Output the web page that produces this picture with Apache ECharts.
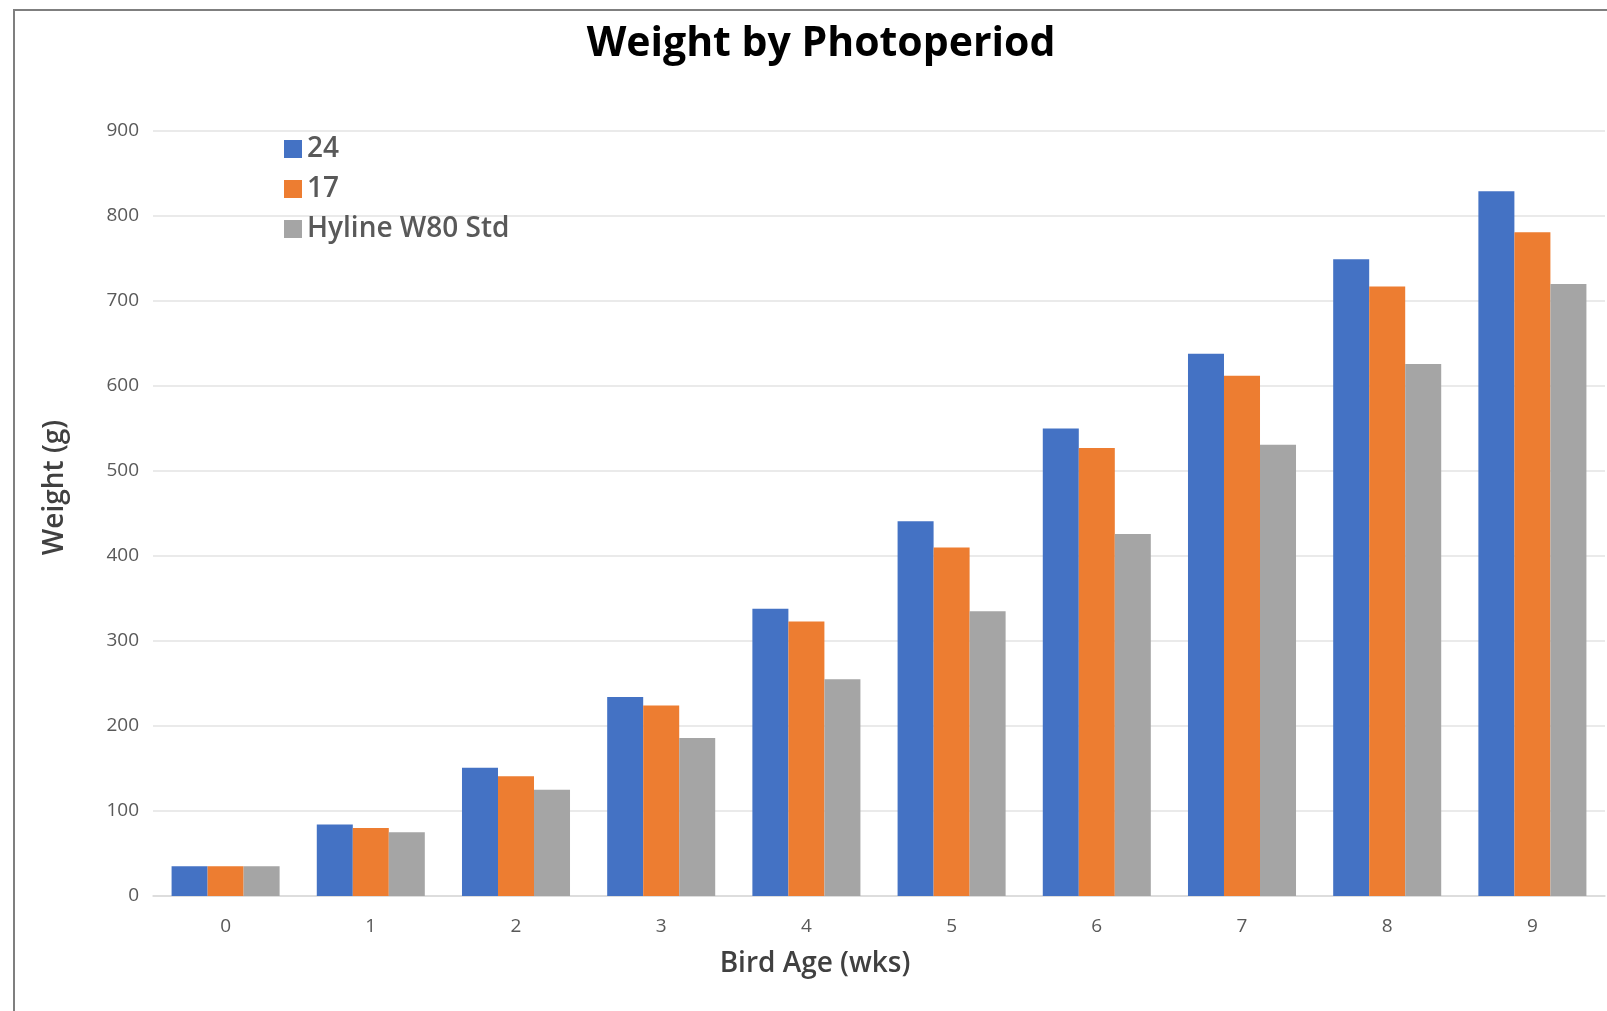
<!DOCTYPE html>
<html>
<head>
<meta charset="utf-8">
<script src="https://cdn.jsdelivr.net/npm/echarts@6/dist/echarts.min.js"></script>
<style>
html,body{margin:0;padding:0;background:#fff;}
#chart{width:1607px;height:1011px;}
</style>
</head>
<body>
<div id="chart"></div>
<script>
const categories = ['0','1','2','3','4','5','6','7','8','9'];
const seriesNames = ['24','17','Hyline W80 Std'];
const values24 = [35, 84, 151, 234, 338, 441, 550, 638, 749, 829];
const values17 = [35, 80, 141, 224, 323, 410, 527, 612, 717, 781];
const valuesStd = [35, 75, 125, 186, 255, 335, 426, 531, 626, 720];
const colors = ['#4472C4','#ED7D31','#A5A5A5'];

const chart = echarts.init(document.getElementById('chart'));
const font = '"Open Sans", Lato, sans-serif';
const option = {
  animation: false,
  color: colors,
  title: {
    text: 'Weight by Photoperiod',
    left: 816, textAlign: 'center', top: 19,
    textStyle: {fontFamily: font, fontWeight: 'bold', fontSize: 41, color: '#000'}
  },
  graphic: [{
    type: 'rect', silent: true, z: -1,
    shape: {x: 14, y: 10, width: 1700, height: 1100},
    style: {fill: 'none', stroke: '#7f7f7f', lineWidth: 2}
  }],
  legend: {
    orient: 'vertical', left: 279, top: 130,
    itemWidth: 18, itemHeight: 18, itemGap: 12,
    icon: 'rect',
    data: seriesNames,
    textStyle: {fontFamily: font, fontSize: 28, fontWeight: 600, color: '#595959'}
  },
  grid: {left: 153, right: 2, top: 131, bottom: 115, containLabel: false},
  xAxis: {
    type: 'category', data: categories,
    name: 'Bird Age (wks)', nameLocation: 'middle', nameGap: 54,
    nameTextStyle: {fontFamily: font, fontSize: 28, fontWeight: 600, color: '#404040', padding: [0, 128, 0, 0]},
    axisLine: {lineStyle: {color: '#d9d9d9', width: 1.5}},
    axisTick: {show: false},
    axisLabel: {fontFamily: font, fontSize: 19, color: '#595959', margin: 21}
  },
  yAxis: {
    type: 'value', min: 0, max: 900, interval: 100,
    name: 'Weight (g)', nameLocation: 'middle', nameGap: 84, nameRotate: 90,
    nameTextStyle: {fontFamily: font, fontSize: 28, fontWeight: 600, color: '#404040', padding: [0, 0, 0, 52]},
    axisLine: {show: false}, axisTick: {show: false},
    splitLine: {lineStyle: {color: '#e3e3e3', width: 1.5}},
    axisLabel: {fontFamily: font, fontSize: 19, color: '#595959', margin: 14}
  },
  series: [
    {name: seriesNames[0], type: 'bar', data: values24, barGap: '0%', barCategoryGap: '25.6%'},
    {name: seriesNames[1], type: 'bar', data: values17, barGap: '0%', barCategoryGap: '25.6%'},
    {name: seriesNames[2], type: 'bar', data: valuesStd, barGap: '0%', barCategoryGap: '25.6%'}
  ]
};
chart.setOption(option);
</script>
</body>
</html>
